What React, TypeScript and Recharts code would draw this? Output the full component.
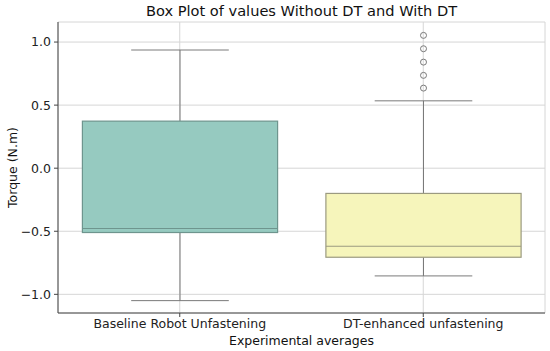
import { ComposedChart, Bar, XAxis, YAxis, CartesianGrid, Cell } from 'recharts';

const categories = ['Baseline Robot Unfastening', 'DT-enhanced unfastening'];
const whiskerLow = [-1.05, -0.854];
const q1 = [-0.51, -0.706];
const median = [-0.478, -0.619];
const q3 = [0.373, -0.2];
const whiskerHigh = [0.937, 0.534];
const outliers = [[], [0.635, 0.736, 0.841, 0.947, 1.053]];
const yTicks = [-1.0, -0.5, 0.0, 0.5, 1.0];

const fills = ['#96cac0', '#f6f5bb'];
const edges = ['#6e958e', '#9b9a80'];
const LINE = '#7a7a7a';

const data = categories.map((name, i) => ({
  name,
  range: [whiskerLow[i], whiskerHigh[i]],
  lo: whiskerLow[i],
  q1: q1[i],
  med: median[i],
  q3: q3[i],
  hi: whiskerHigh[i],
  out: outliers[i],
  idx: i,
}));

// the range bar spans lo..hi, so map values inside it linearly
const BoxShape = (props: any) => {
  const { x, y, width, height, payload } = props;
  const { lo, hi, q1, med, q3, out, idx } = payload;
  const toY = (v: number) => y + ((hi - v) / (hi - lo)) * height;
  const cx = x + width / 2;
  const boxW = width * 0.8;
  const capW = width * 0.4;
  return (
    <g>
      <line x1={cx} x2={cx} y1={toY(hi)} y2={toY(q3)} stroke={LINE} strokeWidth={1} />
      <line x1={cx} x2={cx} y1={toY(q1)} y2={toY(lo)} stroke={LINE} strokeWidth={1} />
      <line x1={cx - capW / 2} x2={cx + capW / 2} y1={toY(hi)} y2={toY(hi)} stroke={LINE} strokeWidth={1} />
      <line x1={cx - capW / 2} x2={cx + capW / 2} y1={toY(lo)} y2={toY(lo)} stroke={LINE} strokeWidth={1} />
      <rect
        x={cx - boxW / 2}
        y={toY(q3)}
        width={boxW}
        height={toY(q1) - toY(q3)}
        fill={fills[idx]}
        stroke={edges[idx]}
        strokeWidth={1.2}
      />
      <line x1={cx - boxW / 2} x2={cx + boxW / 2} y1={toY(med)} y2={toY(med)} stroke={edges[idx]} strokeWidth={1.2} />
      {out.map((v: number, k: number) => (
        <circle key={k} cx={cx} cy={toY(v)} r={3} fill="none" stroke={LINE} strokeWidth={1} />
      ))}
    </g>
  );
};

const tickStyle = { fill: '#222', fontSize: 12.5, fontFamily: 'DejaVu Sans' };

export default function App() {
  return (
    <div style={{ position: 'absolute', left: 0, top: 0, width: 550, height: 351, background: '#fff', fontFamily: 'DejaVu Sans' }}>
      <div style={{ position: 'absolute', left: 58, width: 487, top: 2, textAlign: 'center', fontSize: 14.6, color: '#111' }}>
        Box Plot of values Without DT and With DT
      </div>
      <ComposedChart
        width={550}
        height={351}
        data={data}
        margin={{ top: 22, right: 5, bottom: 0, left: 0 }}
        barCategoryGap={0}
      >
        <CartesianGrid stroke="#d6d6d6" strokeWidth={1} />
        <XAxis
          dataKey="name"
          type="category"
          height={38}
          tick={tickStyle}
          tickSize={4}
          tickLine={{ stroke: '#444' }}
          axisLine={{ stroke: '#444' }}
          interval={0}
          label={{ value: 'Experimental averages', position: 'insideBottom', offset: 6, fill: '#111', fontSize: 12.5, fontFamily: 'DejaVu Sans' }}
        />
        <XAxis xAxisId="top" dataKey="name" orientation="top" height={0} tick={false} tickLine={false} axisLine={{ stroke: '#444' }} />
        <YAxis
          type="number"
          domain={[-1.148, 1.159]}
          ticks={yTicks}
          allowDataOverflow
          width={58}
          tick={tickStyle}
          tickSize={4}
          tickMargin={3}
          tickLine={{ stroke: '#444' }}
          axisLine={{ stroke: '#444' }}
          tickFormatter={(v: number) => v.toFixed(1).replace('-', '\u2212')}
          label={({ viewBox }: any) => (
            <text
              x={12}
              y={viewBox.y + viewBox.height / 2}
              transform={`rotate(-90, 12, ${viewBox.y + viewBox.height / 2})`}
              textAnchor="middle"
              dominantBaseline="central"
              fill="#111"
              fontSize={12.5}
              fontFamily="DejaVu Sans"
            >
              Torque (N.m)
            </text>
          )}
        />
        <YAxis yAxisId="right" orientation="right" width={0} tick={false} tickLine={false} axisLine={{ stroke: '#444' }} />
        <Bar dataKey="range" shape={<BoxShape />} isAnimationActive={false}>
          {data.map((d, i) => (
            <Cell key={i} fill={fills[i]} />
          ))}
        </Bar>
      </ComposedChart>
    </div>
  );
}
